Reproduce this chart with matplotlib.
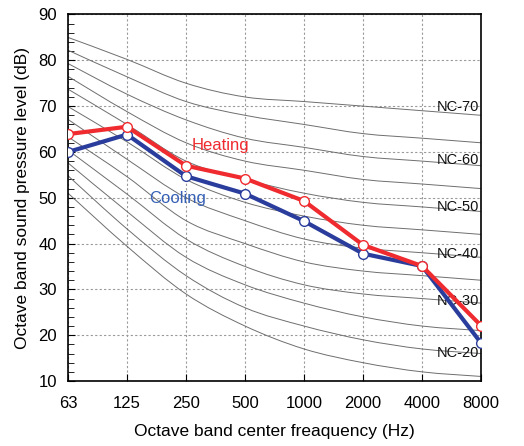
import matplotlib
matplotlib.use("Agg")
import matplotlib.pyplot as plt
import numpy as np
from matplotlib.path import Path
from matplotlib.patches import PathPatch
from matplotlib.ticker import MultipleLocator

plt.rcParams['font.family'] = ['Liberation Sans', 'DejaVu Sans']

# octave bands
bands = ['63', '125', '250', '500', '1000', '2000', '4000', '8000']

# NC reference curves
nc_names = ['NC-15', 'NC-20', 'NC-25', 'NC-30', 'NC-35', 'NC-40',
            'NC-45', 'NC-50', 'NC-55', 'NC-60', 'NC-65', 'NC-70']
nc_levels = [
    [51.0, 39.4, 29, 22, 17, 14, 12, 11],
    [54.8, 43.2, 33, 26, 22, 19, 17, 16],
    [57.6, 47.0, 37, 31, 27, 24, 22, 21],
    [60.4, 50.8, 41, 35, 31, 29, 28, 27],
    [63.3, 54.6, 45, 40, 36, 34, 33, 32],
    [67.1, 58.4, 50, 45, 41, 39, 38, 37],
    [69.9, 62.2, 54, 49, 46, 44, 43, 42],
    [73.7, 66.0, 58, 54, 51, 49, 48, 47],
    [76.5, 68.8, 62, 58, 56, 54, 53, 52],
    [79.3, 72.6, 67, 63, 61, 59, 58, 57],
    [82.2, 76.4, 71, 68, 66, 64, 63, 62],
    [85.0, 80.2, 75, 72, 71, 70, 69, 68],
]

heating = [63.9, 65.5, 57.0, 54.2, 49.3, 39.7, 35.1, 22.1]
cooling = [60.0, 63.8, 54.7, 50.9, 44.9, 37.8, 35.1, 18.3]

# which curves get a label, and where the label sits (y in dB)
nc_label_pos = {'NC-70': 69.8, 'NC-60': 58.2, 'NC-50': 47.9,
                'NC-40': 37.8, 'NC-30': 27.5, 'NC-20': 16.2}


def smooth_path(xs, ys):
    # Excel-like smoothed line: cubic bezier through the points
    pts = np.column_stack([xs, ys]).astype(float)
    n = len(pts)
    verts = [pts[0]]
    codes = [Path.MOVETO]
    for i in range(n - 1):
        p0 = pts[i - 1] if i > 0 else pts[i]
        p1 = pts[i]
        p2 = pts[i + 1]
        p3 = pts[i + 2] if i + 2 < n else pts[i + 1]
        verts += [p1 + (p2 - p0) / 6, p2 - (p3 - p1) / 6, p2]
        codes += [Path.CURVE4] * 3
    return Path(verts, codes)


fig = plt.figure(figsize=(5.24, 4.46), dpi=100)
ax = fig.add_axes([0.1298, 0.1457, 0.918 - 0.1298, 0.9675 - 0.1457])

x = np.arange(len(bands))

for name, lev in zip(nc_names, nc_levels):
    ax.add_patch(PathPatch(smooth_path(x, lev), fill=False,
                           edgecolor='#6e6e6e', lw=0.7, zorder=2))
    if name in nc_label_pos:
        ax.text(6.97, nc_label_pos[name], name, ha='right', va='center',
                fontsize=10.5, color='#111111', zorder=3)

ax.plot(x, cooling, color='#2b3d9c', lw=3, marker='o', ms=7,
        mfc='white', mec='#2b3d9c', mew=1.0, zorder=4)
ax.plot(x, heating, color='#ef2b2f', lw=3, marker='o', ms=7,
        mfc='white', mec='#ef2b2f', mew=1.0, zorder=5)

ax.text(2.58, 61.3, 'Heating', color='#ef2b2f', fontsize=12,
        ha='center', va='center')
ax.text(1.85, 49.9, 'Cooling', color='#3560b5', fontsize=12,
        ha='center', va='center')

ax.set_xlim(0, 7)
ax.set_ylim(10, 90)
ax.set_xticks(x)
ax.set_xticklabels(bands)
ax.yaxis.set_major_locator(MultipleLocator(10))
ax.yaxis.set_minor_locator(MultipleLocator(2))

ax.grid(True, which='major', color='#9a9a9a', ls=(0, (2, 2)), lw=0.8, zorder=1)
ax.set_axisbelow(True)

ax.tick_params(axis='both', which='both', direction='in', right=False, top=False)
ax.tick_params(axis='x', which='major', length=5, pad=11, labelsize=12)
ax.tick_params(axis='y', which='major', length=5, pad=8, labelsize=12)
ax.tick_params(axis='y', which='minor', length=4)
for s in ax.spines.values():
    s.set_linewidth(1.2)
    s.set_color('black')

ax.set_xlabel('Octave band center freaquency (Hz)', fontsize=12.5, labelpad=9)
ax.set_ylabel('Octave band sound pressure level (dB)', fontsize=12.5, labelpad=6)

fig.savefig('out.png', dpi=100)
